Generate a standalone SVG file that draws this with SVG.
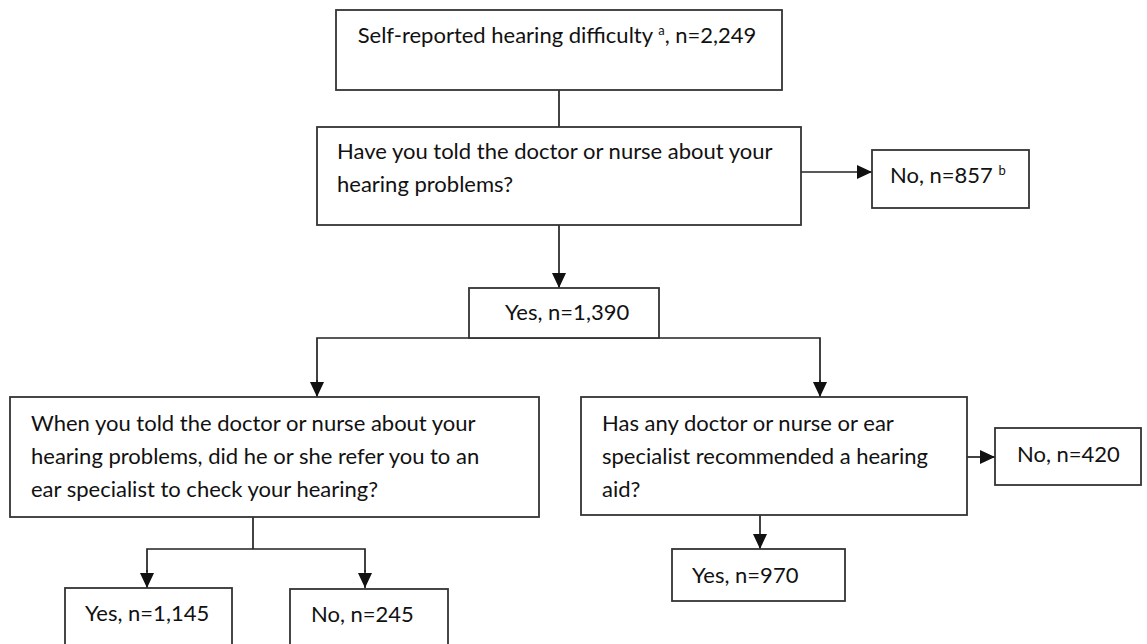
<svg xmlns="http://www.w3.org/2000/svg" width="1147" height="644" viewBox="0 0 1147 644">
<style>
.box{fill:#fff;stroke:#333;stroke-width:1.8}
.ln{fill:none;stroke:#222;stroke-width:1.7}
.t{font-family:Lato,"Open Sans","Liberation Sans",sans-serif;font-size:22px;fill:#111}
.sup{font-size:13px}
</style>
<defs>
<marker id="ah" markerUnits="userSpaceOnUse" markerWidth="15" markerHeight="14" refX="15" refY="7" orient="auto">
<path d="M0,0 L15,7 L0,14 z" fill="#111"/>
</marker>
</defs>
<rect width="1147" height="644" fill="#fff"/>
<g id="connectors">
<line class="ln" x1="559" y1="90" x2="559" y2="127"/>
<line class="ln" x1="801" y1="172" x2="872" y2="172" marker-end="url(#ah)"/>
<line class="ln" x1="559" y1="225" x2="559" y2="288" marker-end="url(#ah)"/>
<polyline class="ln" points="317,382 317,338 820,338 820,382"/>
<line class="ln" x1="317" y1="380" x2="317" y2="397" marker-end="url(#ah)"/>
<line class="ln" x1="820" y1="380" x2="820" y2="397" marker-end="url(#ah)"/>
<polyline class="ln" points="253,517 253,549"/>
<polyline class="ln" points="147,572 147,549 365,549 365,572"/>
<line class="ln" x1="147" y1="570" x2="147" y2="588" marker-end="url(#ah)"/>
<line class="ln" x1="365" y1="570" x2="365" y2="588" marker-end="url(#ah)"/>
<line class="ln" x1="967" y1="457" x2="995" y2="457" marker-end="url(#ah)"/>
<line class="ln" x1="760" y1="515" x2="760" y2="549" marker-end="url(#ah)"/>
</g>
<g id="n_total">
<rect class="box" x="336" y="10" width="446" height="80"/>
<text class="t" x="557" y="43" text-anchor="middle">Self-reported hearing difficulty <tspan class="sup" dy="-8">a</tspan><tspan dy="8">, n=2,249</tspan></text>
</g>
<g id="n_told">
<rect class="box" x="317" y="127" width="484" height="98"/>
<text class="t" x="337" y="159">Have you told the doctor or nurse about your</text>
<text class="t" x="337" y="192">hearing problems?</text>
</g>
<g id="n_no857">
<rect class="box" x="872" y="150" width="157" height="58"/>
<text class="t" x="890" y="183">No, n=857 <tspan class="sup" dy="-8">b</tspan></text>
</g>
<g id="n_yes1390">
<rect class="box" x="469" y="288" width="190" height="50"/>
<text class="t" x="505" y="320">Yes, n=1,390</text>
</g>
<g id="n_refer">
<rect class="box" x="10" y="397" width="529" height="120"/>
<text class="t" x="31" y="431">When you told the doctor or nurse about your</text>
<text class="t" x="31" y="464">hearing problems, did he or she refer you to an</text>
<text class="t" x="31" y="497">ear specialist to check your hearing?</text>
</g>
<g id="n_recommend">
<rect class="box" x="581" y="397" width="386" height="118"/>
<text class="t" x="602" y="431">Has any doctor or nurse or ear</text>
<text class="t" x="602" y="464">specialist recommended a hearing</text>
<text class="t" x="602" y="497">aid?</text>
</g>
<g id="n_no420">
<rect class="box" x="995" y="428" width="146" height="57"/>
<text class="t" x="1017" y="462">No, n=420</text>
</g>
<g id="n_yes970">
<rect class="box" x="672" y="549" width="173" height="52"/>
<text class="t" x="692" y="583">Yes, n=970</text>
</g>
<g id="n_yes1145">
<rect class="box" x="65" y="588" width="167" height="70"/>
<text class="t" x="85" y="621">Yes, n=1,145</text>
</g>
<g id="n_no245">
<rect class="box" x="290" y="589" width="158" height="70"/>
<text class="t" x="311" y="622">No, n=245</text>
</g>
</svg>
